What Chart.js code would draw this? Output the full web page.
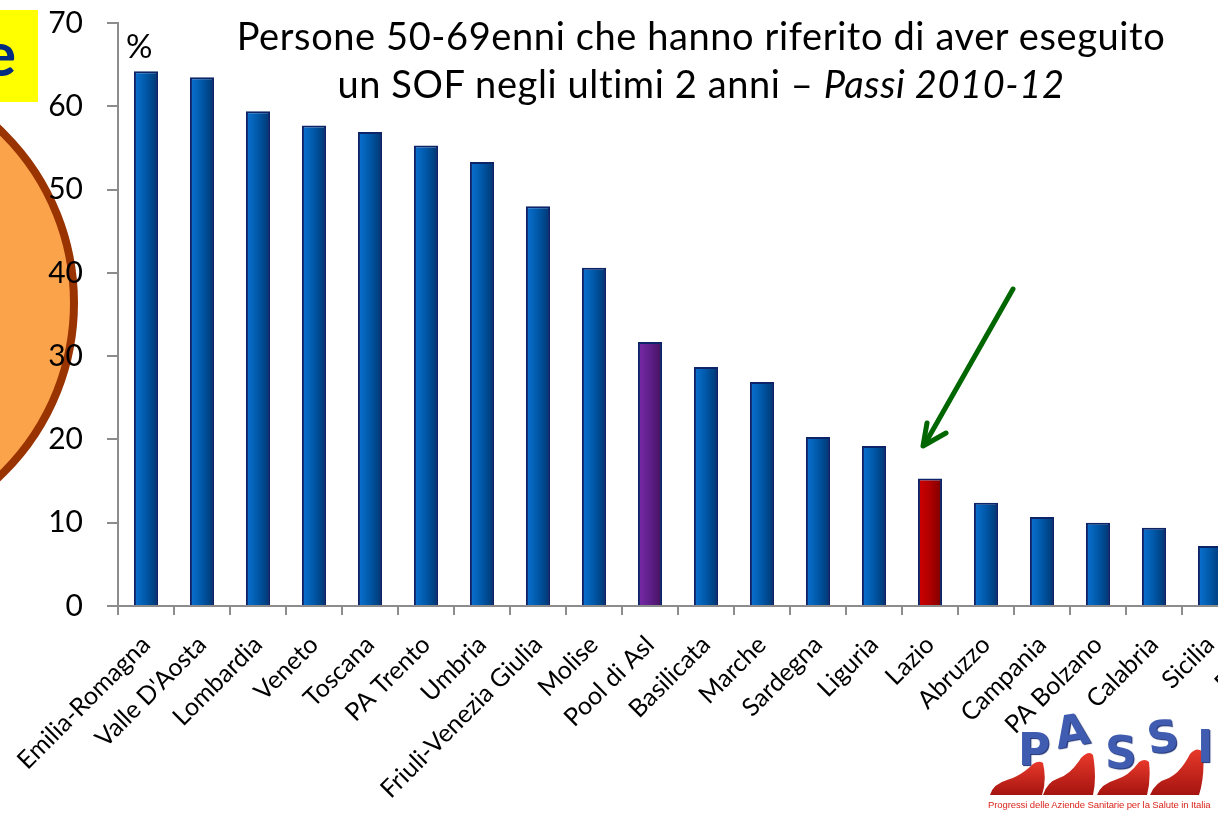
<!DOCTYPE html>
<html>
<head>
<meta charset="utf-8">
<script src="https://cdn.jsdelivr.net/npm/chart.js@4/dist/chart.umd.min.js"></script>
<style>
  html, body { margin: 0; padding: 0; background: #fff; }
  body { width: 1218px; height: 813px; overflow: hidden; position: relative; font-family: Lato, "Open Sans", sans-serif; }
  #circle { position: absolute; left: -408px; top: 60px; width: 470px; height: 470px; border-radius: 50%;
            background: #fba34b; border: 8px solid #993300; }
  #tag { position: absolute; left: 0; top: 10px; width: 38px; height: 92px; background: #ffff00; overflow: hidden; }
  #tag span { position: absolute; right: 22px; top: 11px; font: 700 62px Lato, sans-serif; line-height: 62px; color: #002b80; }
  #wrap { position: absolute; left: 0; top: -19px; width: 1310px; height: 832px; }
  #title { position: absolute; left: 201px; top: 11px; width: 1000px; text-align: center;
           font: 38px Lato, sans-serif; line-height: 48px; letter-spacing: 0.6px; color: #000; white-space: nowrap; }
  #pct { position: absolute; left: 126px; top: 25px; font: 33px Lato, sans-serif; color: #000; }
  #logo { position: absolute; left: 985px; top: 700px; width: 233px; height: 113px; }
  #logo .l { position: absolute; font: 700 44px "DejaVu Sans", sans-serif; line-height: 44px; color: #3f5cb0;
             text-shadow: 1px 1px 1px #1d2f70; }
  #logo .sub { position: absolute; left: 3px; top: 99px; font: 9.5px "Liberation Sans", sans-serif; color: #d9261c; white-space: nowrap; letter-spacing: -0.1px; }
  #arrow { position: absolute; left: 0; top: 0; }
</style>
</head>
<body>
<div id="circle"></div>
<div id="tag"><span>e</span></div>
<div id="wrap"><canvas id="sofChart"></canvas></div>
<div id="title">Persone 50-69enni che hanno riferito di aver eseguito<br>un SOF negli ultimi 2 anni – <i>Passi 2010-12</i></div>
<div id="pct">%</div>
<svg id="arrow" width="1218" height="813">
  <line x1="1013" y1="289" x2="926" y2="442" stroke="#006600" stroke-width="5" stroke-linecap="round"/>
  <polyline points="927,423 923,446 946,433" fill="none" stroke="#006600" stroke-width="5" stroke-linecap="round" stroke-linejoin="round"/>
</svg>
<div id="logo">
  <svg width="233" height="100" style="position:absolute; left:0; top:0">
    <defs>
      <linearGradient id="shoe" x1="0" y1="0" x2="0" y2="1">
        <stop offset="0" stop-color="#e8392b"/>
        <stop offset="1" stop-color="#a5140f"/>
      </linearGradient>
    </defs>
    <g fill="url(#shoe)">
      <path d="M5,95 Q8,84 22,80 Q36,76 48,64 Q54,60 58,63 Q62,80 57,95 Z"/>
      <path d="M58,95 Q62,82 74,78 Q86,74 96,58 Q104,50 108,55 Q112,78 108,95 Z"/>
      <path d="M112,95 Q116,84 130,80 Q144,76 154,62 Q160,58 164,62 Q166,80 162,95 Z"/>
      <path d="M165,95 Q170,82 184,78 Q196,72 205,54 Q212,46 218,52 Q220,76 214,95 Z"/>
    </g>
  </svg>
  <span class="l" style="left:33px; top:28px">P</span>
  <span class="l" style="left:70px; top:9px; transform: rotate(-10deg)">A</span>
  <span class="l" style="left:120px; top:31px">S</span>
  <span class="l" style="left:162px; top:15px; transform: rotate(-8deg)">S</span>
  <span class="l" style="left:212px; top:25px">I</span>
  <div class="sub">Progressi delle Aziende Sanitarie per la Salute in Italia</div>
</div>
<script>
const regions = [
  "Emilia-Romagna", "Valle D'Aosta", "Lombardia", "Veneto", "Toscana", "PA Trento", "Umbria",
  "Friuli-Venezia Giulia", "Molise", "Pool di Asl", "Basilicata", "Marche", "Sardegna", "Liguria",
  "Lazio", "Abruzzo", "Campania", "PA Bolzano", "Calabria", "Sicilia", "Puglia"
];
const sofValues = [
  64.2, 63.5, 59.4, 57.7, 56.9, 55.3, 53.3,
  48.0, 40.6, 31.7, 28.7, 26.9, 20.3, 19.2,
  15.3, 12.4, 10.7, 10.0, 9.4, 7.2, null
];
const barTones = regions.map((name) => name === "Pool di Asl" ? "pool" : name === "Lazio" ? "lazio" : "region");
const yTicks = { min: 0, max: 70, step: 10 };

const toneColors = {
  region: ["#0b72d2", "#0058a8", "#003670"],
  pool: ["#7a2aa8", "#5f1f8a", "#45125e"],
  lazio: ["#d00000", "#b00000", "#7a0000"]
};
const barRatio = 0.43;

const barFill = (c) => {
  const tone = toneColors[barTones[c.dataIndex]] || toneColors.region;
  const scale = c.chart.scales.x;
  if (!scale || !scale.width || c.dataIndex == null) {
    return tone[1];
  }
  const x = scale.getPixelForValue(c.dataIndex);
  const half = scale.width / regions.length * barRatio / 2;
  const g = c.chart.ctx.createLinearGradient(x - half, 0, x + half, 0);
  g.addColorStop(0, tone[0]);
  g.addColorStop(0.5, tone[1]);
  g.addColorStop(1, tone[2]);
  return g;
};

const axisGrey = "#8c8c8c";

new Chart(document.getElementById("sofChart"), {
  type: "bar",
  data: {
    labels: regions,
    datasets: [{
      data: sofValues,
      backgroundColor: barFill,
      borderColor: "#0d2468",
      borderWidth: 2,
      borderSkipped: "bottom",
      barPercentage: barRatio,
      categoryPercentage: 1
    }]
  },
  options: {
    responsive: true,
    maintainAspectRatio: false,
    animation: false,
    layout: { padding: { top: 4, left: 0, right: 16, bottom: 0 } },
    plugins: {
      legend: { display: false },
      tooltip: { enabled: false }
    },
    scales: {
      x: {
        afterFit(scale) { scale.height = 207; },
        grid: {
          drawOnChartArea: false,
          drawTicks: true,
          tickLength: 9,
          color: axisGrey,
          lineWidth: 2
        },
        border: { color: axisGrey, width: 2 },
        ticks: {
          autoSkip: false,
          maxRotation: 45,
          minRotation: 45,
          padding: 15,
          color: "#000",
          font: { family: "Lato, sans-serif", size: 25 }
        }
      },
      y: {
        min: yTicks.min,
        max: yTicks.max,
        afterFit(scale) { scale.width = 118; },
        grid: {
          drawOnChartArea: false,
          drawTicks: true,
          tickLength: 11,
          color: axisGrey,
          lineWidth: 2
        },
        border: { color: axisGrey, width: 2 },
        ticks: {
          stepSize: yTicks.step,
          padding: 24,
          color: "#000",
          font: { family: "Lato, sans-serif", size: 30 }
        }
      }
    }
  }
});
</script>
</body>
</html>
